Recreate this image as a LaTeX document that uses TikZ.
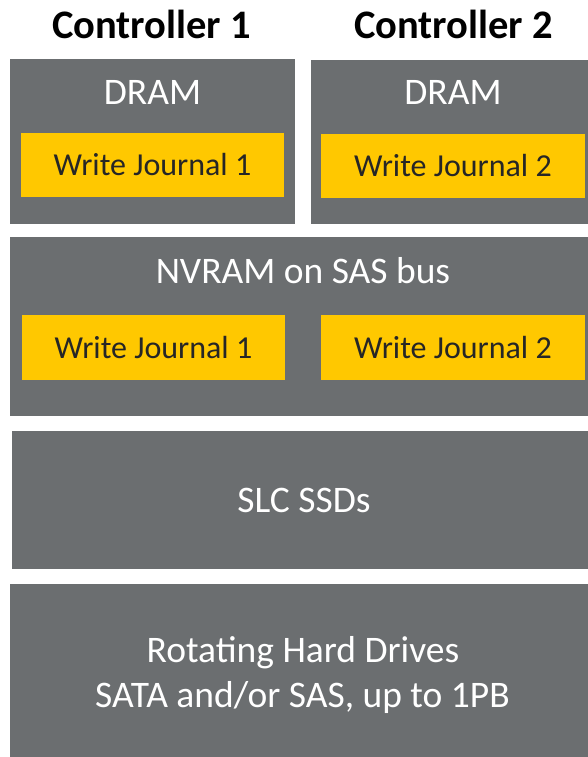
\documentclass[tikz,border=0pt]{standalone}
\usepackage{fontspec}
\setmainfont{Carlito}
\definecolor{slate}{HTML}{6B6E70}
\definecolor{amber}{HTML}{FFC800}
\definecolor{ink}{HTML}{262626}
\begin{document}
\begin{tikzpicture}[x=1pt,y=-1pt,
  block/.style={fill=slate,draw=none,inner sep=0pt},
  journal/.style={fill=amber,draw=none,inner sep=0pt,text=ink,
    font=\fontsize{32}{36}\selectfont},
  label/.style={text=white,anchor=base,inner sep=0pt,
    font=\fontsize{37.5}{42}\selectfont},
  title/.style={anchor=base,inner sep=0pt,font=\fontsize{40.5}{44}\selectfont\bfseries}]
\useasboundingbox (0,0) rectangle (588,757);

% controller headings
\node[title] (t1) at (151.5,39) {Controller 1};
\node[title] (t2) at (453.5,39) {Controller 2};

% per-controller DRAM
\node[block,minimum width=285pt,minimum height=165pt] (dram1) at (152.5,141.5) {};
\node[block,minimum width=277pt,minimum height=164pt] (dram2) at (449.5,142) {};
\node[label] (dl1) at (152.5,105) {DRAM};
\node[label] (dl2) at (453,105) {DRAM};
\node[journal,minimum width=263pt,minimum height=64pt] (jd1) at (152.5,165) {Write Journal 1};
\node[journal,minimum width=264pt,minimum height=64pt] (jd2) at (453,166) {Write Journal 2};

% shared NVRAM
\node[block,minimum width=578pt,minimum height=179pt] (nvram) at (299,326.5) {};
\node[label] (nl) at (303,283) {NVRAM on SAS bus};
\node[journal,minimum width=263pt,minimum height=65pt] (jn1) at (153.5,347.5) {Write Journal 1};
\node[journal,minimum width=264pt,minimum height=65pt] (jn2) at (453,347.5) {Write Journal 2};

% flash tier
\node[block,minimum width=576pt,minimum height=138pt] (slc) at (300,500) {};
\node[label] (sl) at (304,512) {SLC SSDs};

% disk tier
\node[block,minimum width=578pt,minimum height=173pt] (hdd) at (299,670.5) {};
\node[label] (hl1) at (303,662) {Rotating Hard Drives};
\node[label] (hl2) at (302.5,707) {SATA and/or SAS, up to 1PB};
\end{tikzpicture}
\end{document}
